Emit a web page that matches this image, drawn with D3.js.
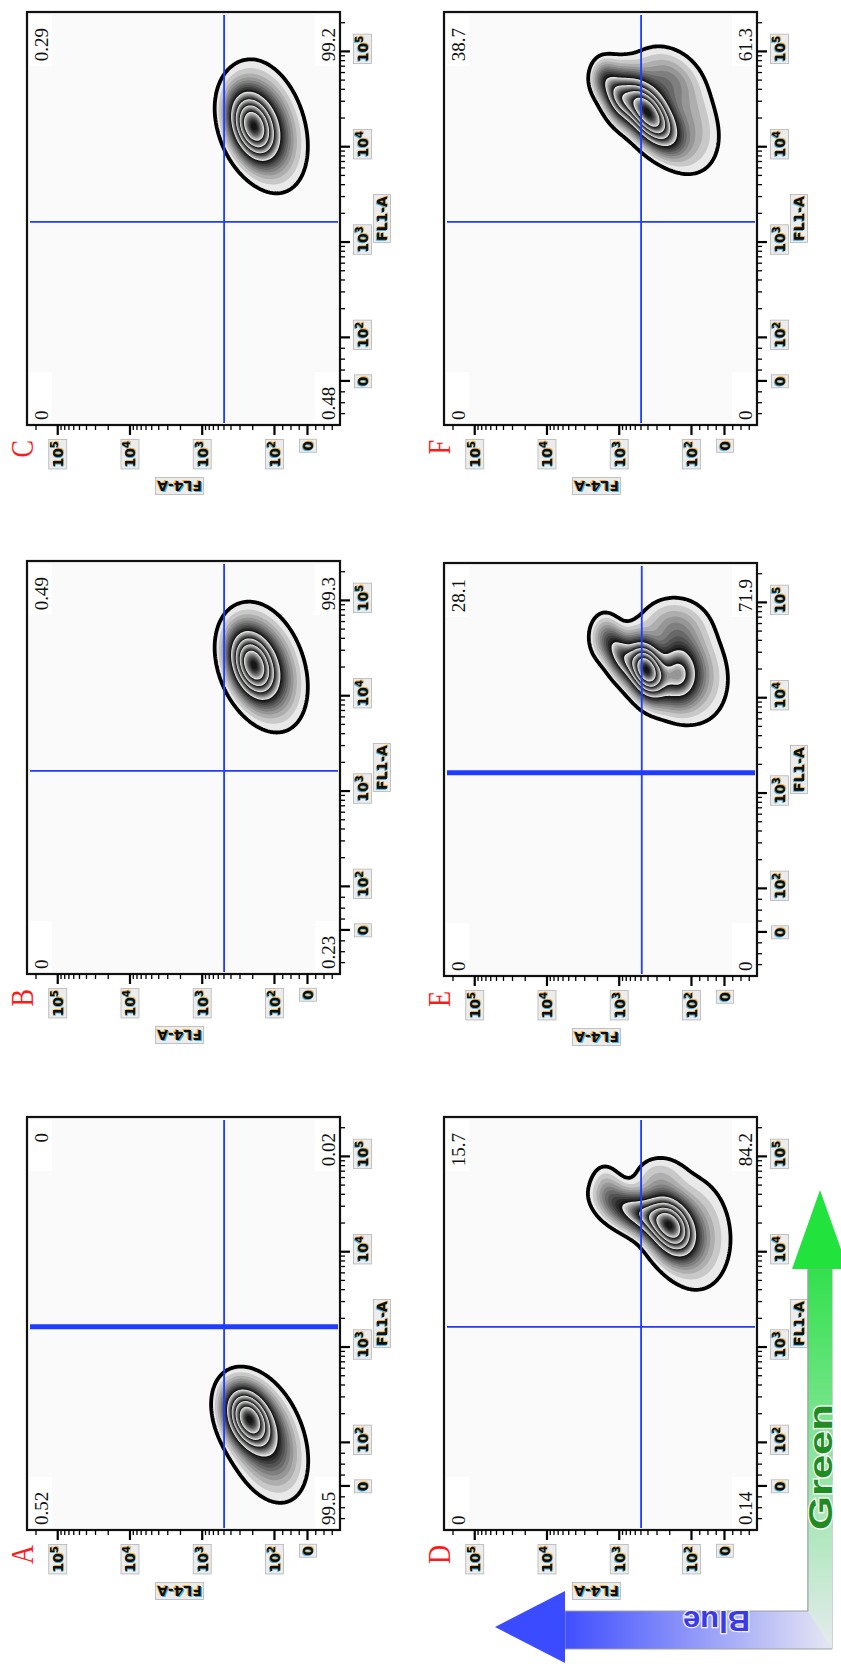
<!DOCTYPE html>
<html>
<head>
<meta charset="utf-8">
<script src="https://cdn.jsdelivr.net/npm/d3@7"></script>
<style>
  body { margin: 0; background: #fff; }
  svg { display: block; }
  .tl { font-family: "DejaVu Sans", sans-serif; font-weight: bold; font-size: 14px; }
  .quad { font-family: "Liberation Serif", serif; font-size: 19px; fill: #111; }
  .letter { font-family: "Liberation Serif", serif; font-size: 32px; fill: #ff1a1a; }
</style>
</head>
<body>
<svg id="fig" width="841" height="1664"></svg>
<script>
// ---- data ----
const panels = ['A', 'B', 'C', 'D', 'E', 'F'];
// quadrant percentages: upper-left, upper-right, lower-left, lower-right
const quadUL = ['0.52', '0', '0', '0', '0', '0'];
const quadUR = ['0', '0.49', '0.29', '15.7', '28.1', '38.7'];
const quadLL = ['99.5', '0.23', '0.48', '0.14', '0', '0'];
const quadLR = ['0.02', '99.3', '99.2', '84.2', '71.9', '61.3'];
// quadrant gate positions (FL1-A, FL4-A)
const gateFL1 = [1650, 1650, 1650, 1650, 1650, 1650];
const gateFL4 = [490, 490, 490, 490, 480, 490];
// axis
const axisRange = [-100, 262144];
const majorTicks = [0, 100, 1000, 10000, 100000];
const majorLabels = [['0', ''], ['10', '2'], ['10', '3'], ['10', '4'], ['10', '5']];
const minorTicks = [-75, -50, -25, 25, 50, 75,
  200, 300, 400, 500, 600, 700, 800, 900,
  2000, 3000, 4000, 5000, 6000, 7000, 8000, 9000,
  20000, 30000, 40000, 50000, 60000, 70000, 80000, 90000, 200000];
// cell populations per panel: [FL1 decade, FL4 decade, sd FL1, sd FL4, correlation, peak weight]
const popA = [[2.26, 2.36, 0.19, 0.19, 0.3, 1.0], [2.05, 2.12, 0.32, 0.28, 0.35, 0.35]];
const popB = [[4.33, 2.30, 0.21, 0.19, 0.3, 1.0], [4.30, 2.12, 0.32, 0.28, 0.3, 0.35]];
const popC = [[4.22, 2.30, 0.21, 0.19, 0.3, 1.0], [4.22, 2.12, 0.33, 0.28, 0.3, 0.35]];
const popD = [[4.27, 2.28, 0.20, 0.20, 0.3, 1.0], [4.40, 2.70, 0.15, 0.30, 0.5, 0.5],
              [4.66, 3.15, 0.16, 0.14, 0.2, 0.11], [4.80, 2.45, 0.14, 0.22, 0.0, 0.08],
              [4.20, 1.95, 0.35, 0.30, 0.1, 0.15]];
const popE = [[4.30, 2.62, 0.18, 0.16, 0.3, 1.0], [4.25, 2.18, 0.20, 0.18, 0.0, 0.45],
              [4.45, 2.98, 0.16, 0.14, 0.4, 0.35], [4.64, 3.20, 0.15, 0.13, 0.0, 0.11],
              [4.75, 2.25, 0.18, 0.28, 0.0, 0.12], [4.25, 1.95, 0.30, 0.28, 0.1, 0.12]];
const popF = [[4.36, 2.60, 0.22, 0.24, 0.6, 1.0], [4.52, 3.02, 0.16, 0.14, 0.4, 0.35],
              [4.72, 3.22, 0.12, 0.11, 0.0, 0.12], [4.70, 2.35, 0.20, 0.28, 0.2, 0.15],
              [4.20, 2.00, 0.28, 0.25, 0.2, 0.10]];
const populations = [popA, popB, popC, popD, popE, popF];
// contour levels, as a share of the peak density
const contourLevels = [0.03, 0.3, 0.47, 0.63, 0.8];

// ---- layout (unrotated figure is 1664 x 841, then turned a quarter left) ----
const FW = 413, FH = 313;
const frameX = [134, 690, 1239, 134, 688, 1239];
const frameY = [27, 27, 27, 444, 444, 444];
const thickFL1 = [true, false, false, false, true, false];
const gateColor = '#1f3dff';

const fig = d3.select('#fig');
const defs = fig.append('defs');
const root = fig.append('g').attr('transform', 'translate(0,1664) rotate(-90)');

// biexponential-like display transform: log above 100, linear near zero
function T(v) { return v >= 100 ? Math.log10(v) : 2 + (v - 100) / 100 * 0.457; }
const uDomain = axisRange.map(T);

function fringeText(g, x, y, parts, anchor, cls) {
  const layers = [['#1ba6e8', -1, -0.6, 0.85], ['#f2a51c', 1, 0.8, 0.85], ['#0d0d0d', 0, 0, 1]];
  let main;
  layers.forEach(([col, dx, dy, op]) => {
    const t = g.append('text').attr('class', cls)
      .attr('x', x + dx).attr('y', y + dy)
      .attr('text-anchor', anchor).attr('fill', col).attr('opacity', op);
    t.append('tspan').text(parts[0]);
    if (parts[1]) t.append('tspan').attr('dy', -5).attr('font-size', 10).text(parts[1]);
    main = t;
  });
  const bb = main.node().getBBox();
  g.insert('rect', 'text')
    .attr('x', bb.x - 1.5).attr('y', bb.y - 0.5)
    .attr('width', bb.width + 3).attr('height', bb.height + 1)
    .attr('fill', '#ececec').attr('stroke', '#b5b5b5').attr('stroke-width', 0.8);
}

const NX = 240, NY = 180;
const S = 10;
const shade = d3.scaleLinear().domain([0, 1]).range(['#e9e9e9', '#151515']);

panels.forEach((name, p) => {
  const x0 = frameX[p], y0 = frameY[p];
  const xs = d3.scaleLinear().domain(uDomain).range([x0, x0 + FW]);
  const ys = d3.scaleLinear().domain(uDomain).range([y0 + FH, y0]);
  const g = root.append('g');

  defs.append('clipPath').attr('id', 'clip' + name)
    .append('rect').attr('x', x0).attr('y', y0).attr('width', FW).attr('height', FH);

  g.append('rect').attr('x', x0).attr('y', y0).attr('width', FW).attr('height', FH)
    .attr('fill', '#fafafa');

  // quadrant label patches
  const patches = [[x0 + 2, y0 + 2], [x0 + FW - 54, y0 + 2], [x0 + 2, y0 + FH - 25], [x0 + FW - 54, y0 + FH - 25]];
  patches.forEach(([px, py]) => g.append('rect').attr('x', px).attr('y', py)
    .attr('width', 51).attr('height', 23).attr('fill', '#fff'));

  // density surface from the population table
  const pops = populations[p];
  const dux = (uDomain[1] - uDomain[0]) / NX, duy = (uDomain[1] - uDomain[0]) / NY;
  const vals = new Float64Array(NX * NY);
  let vmax = 0;
  for (let j = 0; j < NY; j++) {
    const uy = uDomain[0] + (j + 0.5) * duy;
    for (let i = 0; i < NX; i++) {
      const ux = uDomain[0] + (i + 0.5) * dux;
      let s = 0;
      pops.forEach(([cx, cy, sx, sy, r, w]) => {
        const a = (ux - cx) / sx, b = (uy - cy) / sy;
        s += w * Math.exp(-0.5 * (a * a + b * b - 2 * r * a * b) / (1 - r * r));
      });
      vals[j * NX + i] = s;
      if (s > vmax) vmax = s;
    }
  }
  for (let k = 0; k < vals.length; k++) vals[k] /= vmax;

  const bounds = contourLevels.concat([1.0]);
  const steps = [];
  for (let b = 0; b < contourLevels.length; b++) {
    for (let s = 0; s < S; s++) {
      steps.push({ t: bounds[b] + (bounds[b + 1] - bounds[b]) * s / S, k: s / (S - 1) });
    }
  }
  const contours = d3.contours().size([NX, NY]).thresholds(steps.map(d => d.t))(vals);
  const proj = d3.geoTransform({
    point: function (gx, gy) {
      this.stream.point(xs(uDomain[0] + gx * dux), ys(uDomain[0] + gy * duy));
    }
  });
  const path = d3.geoPath(proj);
  const cg = g.append('g').attr('clip-path', 'url(#clip' + name + ')');
  cg.selectAll('path.band').data(contours).enter().append('path')
    .attr('class', 'band')
    .attr('d', path)
    .attr('fill', (d, i) => shade(Math.pow(steps[i].k, 0.85)))
    .attr('stroke', 'none');
  cg.append('path').attr('d', path(contours[0]))
    .attr('fill', 'none').attr('stroke', '#000').attr('stroke-width', 3.8)
    .attr('stroke-linejoin', 'round');

  // quadrant gates
  const gx = xs(T(gateFL1[p])), gy = ys(T(gateFL4[p]));
  g.append('line').attr('x1', gx).attr('x2', gx).attr('y1', y0 + 3).attr('y2', y0 + FH - 2)
    .attr('stroke', gateColor).attr('stroke-width', thickFL1[p] ? 5 : 1.8);
  g.append('line').attr('x1', x0 + 2).attr('x2', x0 + FW - 3).attr('y1', gy).attr('y2', gy)
    .attr('stroke', gateColor).attr('stroke-width', 1.8);

  // quadrant numbers
  g.append('text').attr('class', 'quad').attr('x', x0 + 5).attr('y', y0 + 21).text(quadUL[p]);
  g.append('text').attr('class', 'quad').attr('x', x0 + FW - 16).attr('y', y0 + 21)
    .attr('text-anchor', 'end').text(quadUR[p]);
  g.append('text').attr('class', 'quad').attr('x', x0 + 5).attr('y', y0 + FH - 5).text(quadLL[p]);
  g.append('text').attr('class', 'quad').attr('x', x0 + FW - 16).attr('y', y0 + FH - 5)
    .attr('text-anchor', 'end').text(quadLR[p]);

  // frame
  g.append('rect').attr('x', x0).attr('y', y0).attr('width', FW).attr('height', FH)
    .attr('fill', 'none').attr('stroke', '#111').attr('stroke-width', 2.2);

  // axes
  const xMajor = g.append('g').attr('transform', `translate(0,${y0 + FH})`)
    .call(d3.axisBottom(xs).tickValues(majorTicks.map(T)).tickSize(10).tickFormat(''));
  const xMinor = g.append('g').attr('transform', `translate(0,${y0 + FH})`)
    .call(d3.axisBottom(xs).tickValues(minorTicks.map(T)).tickSize(5).tickFormat(''));
  const yMajor = g.append('g').attr('transform', `translate(${x0},0)`)
    .call(d3.axisLeft(ys).tickValues(majorTicks.map(T)).tickSize(10).tickFormat(''));
  const yMinor = g.append('g').attr('transform', `translate(${x0},0)`)
    .call(d3.axisLeft(ys).tickValues(minorTicks.map(T)).tickSize(5).tickFormat(''));
  [xMajor, xMinor, yMajor, yMinor].forEach(a => {
    a.select('.domain').remove();
    a.selectAll('line').attr('stroke', '#000');
  });
  [xMajor, yMajor].forEach(a => a.selectAll('line').attr('stroke-width', 2.2));
  [xMinor, yMinor].forEach(a => a.selectAll('line').attr('stroke-width', 1.3));

  majorTicks.forEach((v, i) => {
    fringeText(g, xs(T(v)) + (majorLabels[i][1] ? 3 : 0), y0 + FH + 28, majorLabels[i], 'middle', 'tl');
    fringeText(g, x0 - 16, ys(T(v)) + 6, majorLabels[i], 'end', 'tl');
  });

  // axis titles
  fringeText(g, x0 + FW / 2, y0 + FH + 47, ['FL1-A', ''], 'middle', 'tl');
  const yt = g.append('g').attr('transform', `translate(${x0 - 56},${y0 + FH / 2 - 4}) rotate(-90)`);
  fringeText(yt, 0, 0, ['FL4-A', ''], 'middle', 'tl');

  // panel letter
  g.append('text').attr('class', 'letter')
    .attr('transform', `translate(${x0 - 15},${y0 + 6}) scale(0.82,1)`)
    .attr('text-anchor', 'end').text(name);
});

// ---- colour-channel arrows (Green = FL1-A, Blue = FL4-A) ----
const gradB = defs.append('linearGradient').attr('id', 'gradBlue')
  .attr('gradientUnits', 'userSpaceOnUse').attr('x1', 0).attr('y1', 832).attr('x2', 0).attr('y2', 560);
gradB.append('stop').attr('offset', 0).attr('stop-color', '#e6e7f3');
gradB.append('stop').attr('offset', 1).attr('stop-color', '#3d4cff');
const gradG = defs.append('linearGradient').attr('id', 'gradGreen')
  .attr('gradientUnits', 'userSpaceOnUse').attr('x1', 15).attr('y1', 0).attr('x2', 400).attr('y2', 0);
gradG.append('stop').attr('offset', 0).attr('stop-color', '#e7ebef');
gradG.append('stop').attr('offset', 1).attr('stop-color', '#2fe04a');

const arrows = root.append('g');
arrows.append('path')
  .attr('d', 'M15,832 L15,565 L53,565 L53,808 L395,808 L395,832 Z')
  .attr('fill', 'url(#gradBlue)').attr('stroke', '#9aa0a8').attr('stroke-width', 1);
arrows.append('path')
  .attr('d', 'M53,808 L395,808 L395,832 L15,832 Z')
  .attr('fill', 'url(#gradGreen)').attr('stroke', 'none');
arrows.append('path').attr('d', 'M53,808 L395,808 L395,832').attr('fill', 'none')
  .attr('stroke', '#9aa0a8').attr('stroke-width', 1);
arrows.append('path').attr('d', 'M1,565 L73,565 L37,495 Z').attr('fill', '#3b4bff');
arrows.append('path').attr('d', 'M395,792 L395,848 L474,820 Z').attr('fill', '#22e33d');

arrows.append('text').attr('x', 134).attr('y', 832)
  .attr('font-family', '"Liberation Sans", Arial, sans-serif').attr('font-weight', 'bold')
  .attr('font-size', 34).attr('textLength', 126).attr('lengthAdjust', 'spacingAndGlyphs')
  .attr('fill', '#1f8c22').attr('stroke', '#f4f4f4').attr('stroke-width', 2.5)
  .attr('paint-order', 'stroke').text('Green');
arrows.append('text').attr('transform', 'translate(53,750) rotate(-90)')
  .attr('font-family', '"Liberation Sans", Arial, sans-serif').attr('font-weight', 'bold')
  .attr('font-size', 30).attr('textLength', 67).attr('lengthAdjust', 'spacingAndGlyphs')
  .attr('fill', '#3a3ae6').attr('stroke', '#f4f4f8').attr('stroke-width', 2.5)
  .attr('paint-order', 'stroke').text('Blue');
</script>
</body>
</html>
